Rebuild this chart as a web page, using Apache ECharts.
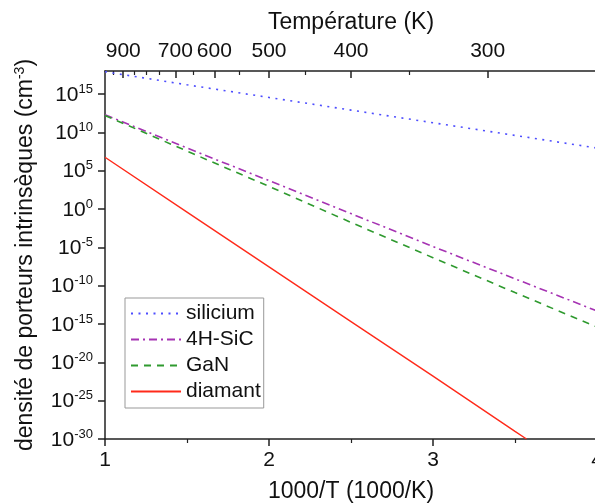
<!DOCTYPE html>
<html>
<head>
<meta charset="utf-8">
<script src="https://cdn.jsdelivr.net/npm/echarts@6/dist/echarts.min.js"></script>
<style>html,body{margin:0;padding:0;background:#fff}#c{width:595px;height:504px}</style>
</head>
<body>
<div id="c"></div>
<script>
// 1000/T positions (1000/K)
const xInv = [1, 1.5, 2, 2.5, 3, 3.5, 4];
// log10 of intrinsic carrier density (cm^-3)
const silicium = [17.9, 16.2, 14.55, 12.9, 11.25, 9.6, 7.95];
const sic4h = [12.3, 7.95, 3.7, -0.6, -4.9, -9.1, -13.3];
const gan = [12.2, 7.55, 2.95, -1.75, -6.35, -10.9, -15.4];
const xDiamant = [1, 1.5, 2, 2.5, 3, 3.5, 3.57];
const diamant = [6.75, -0.4, -7.55, -14.7, -21.8, -29.0, -30.0];
// axis tick labels
const yTickExp = [-30, -25, -20, -15, -10, -5, 0, 5, 10, 15];
const bottomTicks = [1, 2, 3, 4];
const topTempMajor = [900, 700, 600, 500, 400, 300];
const topTempMinor = [950, 850, 800, 750, 650, 550, 450, 350];
const seriesNames = ['silicium', '4H-SiC', 'GaN', 'diamant'];

const FONT = 'Liberation Sans, Arial, Helvetica, sans-serif';
const AX = '#222';
const toPairs = (xs, ys) => xs.map((x, i) => [x, ys[i]]);

const chart = echarts.init(document.getElementById('c'), null, {renderer: 'canvas'});
chart.setOption({
  animation: false,
  backgroundColor: '#fff',
  textStyle: {fontFamily: FONT},
  grid: {left: 105, right: -2, top: 71, bottom: 65, containLabel: false, outerBoundsMode: 'none'},
  legend: {
    orient: 'vertical',
    left: 125, top: 298,
    padding: [5, 3, 6, 5],
    itemGap: 5,
    itemWidth: 50,
    itemHeight: 14,
    borderColor: '#999', borderWidth: 1,
    backgroundColor: '#fff',
    itemStyle: {opacity: 0},
    textStyle: {fontSize: 21, color: '#111', fontFamily: FONT},
    data: seriesNames
  },
  xAxis: [
    {
      type: 'value', position: 'bottom', min: 1, max: 4, interval: 1,
      name: '1000/T (1000/K)', nameLocation: 'middle', nameGap: 41,
      nameTextStyle: {fontSize: 23, color: '#111', fontFamily: FONT},
      axisLine: {show: true, onZero: false, lineStyle: {color: AX, width: 1.5}},
      axisTick: {show: true, inside: false, length: 7, lineStyle: {color: AX, width: 1.5}, customValues: bottomTicks},
      minorTick: {show: true, splitNumber: 2, length: 4, lineStyle: {color: AX, width: 1.2}},
      axisLabel: {fontSize: 21, color: '#111', margin: 11, fontFamily: FONT, customValues: bottomTicks},
      splitLine: {show: false}
    },
    {
      type: 'value', position: 'top', min: 1, max: 4,
      name: 'Température (K)', nameLocation: 'middle', nameGap: 37,
      nameTextStyle: {fontSize: 23, color: '#111', fontFamily: FONT},
      axisLine: {show: true, onZero: false, lineStyle: {color: AX, width: 1.5}},
      axisTick: {show: true, inside: true, length: 7, lineStyle: {color: AX, width: 1.5},
        customValues: topTempMajor.map(t => 1000 / t)},
      axisLabel: {fontSize: 21, color: '#111', margin: 9, fontFamily: FONT,
        customValues: topTempMajor.map(t => 1000 / t),
        formatter: v => String(Math.round(1000 / v))},
      splitLine: {show: false}
    },
    {
      type: 'value', position: 'top', min: 1, max: 4,
      axisLine: {show: false, onZero: false},
      axisTick: {show: true, inside: true, length: 4, lineStyle: {color: AX, width: 1.2},
        customValues: topTempMinor.map(t => 1000 / t)},
      axisLabel: {show: false},
      splitLine: {show: false}
    }
  ],
  yAxis: {
    type: 'value', min: -30, max: 18, interval: 5,
    name: 'densité de porteurs intrinsèques (cm{s|-3})',
    nameLocation: 'middle', nameGap: 67,
    nameTextStyle: {fontSize: 23, color: '#111', fontFamily: FONT,
      rich: {s: {fontSize: 14, padding: [0, 0, 11, 0], fontFamily: FONT, color: '#111'}}},
    axisLine: {show: true, onZero: false, lineStyle: {color: AX, width: 1.5}},
    axisTick: {show: true, inside: false, length: 7, lineStyle: {color: AX, width: 1.5}, customValues: yTickExp},
    axisLabel: {
      margin: 12, customValues: yTickExp,
      formatter: v => '{b|10}{s|' + v + '}',
      rich: {
        b: {fontSize: 21, color: '#111', fontFamily: FONT, verticalAlign: 'bottom', lineHeight: 23},
        s: {fontSize: 13, color: '#111', fontFamily: FONT, verticalAlign: 'top', lineHeight: 13}
      }
    },
    splitLine: {show: false}
  },
  series: [
    {name: 'silicium', type: 'line', xAxisIndex: 0, symbol: 'none', clip: true,
      data: toPairs(xInv, silicium),
      lineStyle: {color: '#4d4dff', width: 1.6, type: [2, 5.5]}, itemStyle: {color: '#4d4dff'}},
    {name: '4H-SiC', type: 'line', xAxisIndex: 0, symbol: 'none', clip: true,
      data: toPairs(xInv, sic4h),
      lineStyle: {color: '#a633b3', width: 1.6, type: [8, 4, 2, 4]}, itemStyle: {color: '#a633b3'}},
    {name: 'GaN', type: 'line', xAxisIndex: 0, symbol: 'none', clip: true,
      data: toPairs(xInv, gan),
      lineStyle: {color: '#2f9a2f', width: 1.6, type: [7, 6]}, itemStyle: {color: '#2f9a2f'}},
    {name: 'diamant', type: 'line', xAxisIndex: 0, symbol: 'none', clip: true,
      data: toPairs(xDiamant, diamant),
      lineStyle: {color: '#ff2a1a', width: 1.4, type: 'solid'}, itemStyle: {color: '#ff2a1a'}}
  ]
});
</script>
</body>
</html>
